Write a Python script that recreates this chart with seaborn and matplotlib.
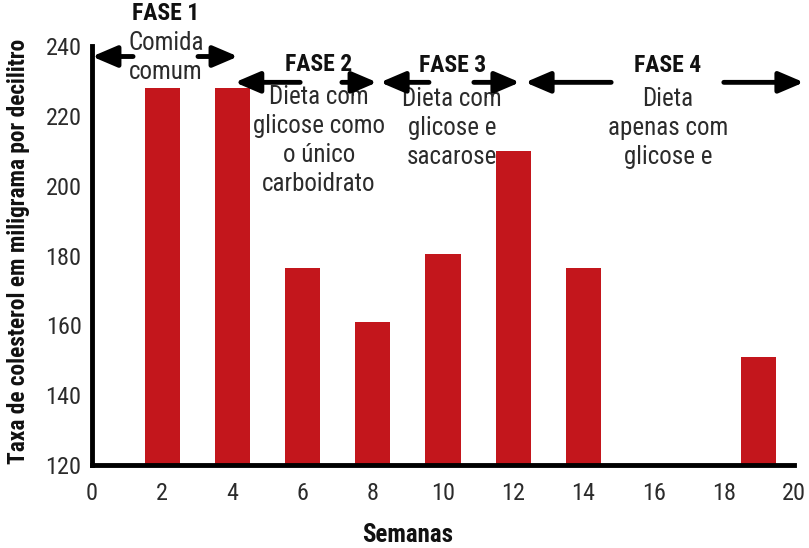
import matplotlib
matplotlib.use("Agg")
import matplotlib.pyplot as plt
import seaborn as sns
import pandas as pd
from matplotlib import font_manager

weeks = [2, 4, 6, 8, 10, 12, 14, 19]
cholesterol = [228, 228, 176.5, 161, 180.5, 210, 176.5, 151]
x_ticks = [0, 2, 4, 6, 8, 10, 12, 14, 16, 18, 20]
y_ticks = [120, 140, 160, 180, 200, 220, 240]

phase_titles = ["FASE 1", "FASE 2", "FASE 3", "FASE 4"]
phase_texts = ["Comida\ncomum", "Dieta com\nglicose como\no único\ncarboidrato",
               "Dieta com\nglicose e\nsacarose", "Dieta\napenas com\nglicose e"]

sns.set_theme(style="white")
names = {f.name for f in font_manager.fontManager.ttflist}
fam = "DejaVu Sans"
for cand in ["Roboto Condensed", "Liberation Sans Narrow", "Open Sans Condensed", "Liberation Sans"]:
    if cand in names:
        fam = cand
        break
plt.rcParams["font.family"] = [fam, "DejaVu Sans"]

df = pd.DataFrame({"Semanas": weeks, "Taxa": cholesterol})

fig = plt.figure(figsize=(8.09, 5.48), dpi=100)
ax = fig.add_axes([0.1137, 0.1515, 0.9815 - 0.1137, 0.916 - 0.1515])
sns.barplot(data=df, x="Semanas", y="Taxa", native_scale=True, width=0.5,
            color="#C3161C", saturation=1, errorbar=None, ax=ax, linewidth=0)

ax.set_xlim(0, 20)
ax.set_ylim(120, 240)
ax.set_xticks(x_ticks)
ax.set_yticks(y_ticks)
ax.tick_params(axis="x", length=0, labelsize=17.5, pad=12, colors="#2b2b2b")
ax.tick_params(axis="y", length=7, width=2, direction="inout", labelsize=17.5, pad=4,
               colors="black", labelcolor="#2b2b2b")
for s in ["top", "right"]:
    ax.spines[s].set_visible(False)
for s in ["left", "bottom"]:
    ax.spines[s].set_linewidth(3.5)
    ax.spines[s].set_color("black")
ax.set_xlabel("Semanas", fontsize=18, fontweight="bold", color="#111111")
ax.xaxis.set_label_coords(0.45, -0.138)
ax.set_ylabel("Taxa de colesterol em miligrama por decilitro", fontsize=16.8,
              fontweight="bold", color="#111111")
ax.yaxis.set_label_coords(-0.088, 0.51)
ax.grid(False)

# phase annotations
title_pos = [(2.11, 249.2), (6.47, 234.6), (10.26, 234.3), (16.41, 234.3)]
text_pos = [(2.11, 236.8), (6.47, 212.9), (10.26, 216.4), (16.41, 216.4)]
arrow_y = [237.0, 229.6, 229.6, 229.6]
arrow_segs = [(0.0, 1.17, 3.02, 4.16), (4.07, 5.93, 7.12, 8.12),
              (8.21, 9.6, 10.88, 12.19), (12.34, 14.79, 18.0, 20.28)]

aprops = dict(arrowstyle="-|>,head_length=0.75,head_width=0.32", lw=3.5, color="black",
              shrinkA=0, shrinkB=0, mutation_scale=20)
for i in range(4):
    ax.text(*title_pos[i], phase_titles[i], ha="center", va="center", fontsize=17,
            fontweight="bold", color="#111111", clip_on=False)
    ax.text(*text_pos[i], phase_texts[i], ha="center", va="center", fontsize=18,
            color="#2b2b2b", linespacing=1.26, clip_on=False)
    a, lg, rg, b = arrow_segs[i]
    y = arrow_y[i]
    ax.annotate("", xy=(a, y), xytext=(lg, y), arrowprops=aprops, annotation_clip=False)
    ax.annotate("", xy=(b, y), xytext=(rg, y), arrowprops=aprops, annotation_clip=False)

fig.savefig("out.png", dpi=100)
